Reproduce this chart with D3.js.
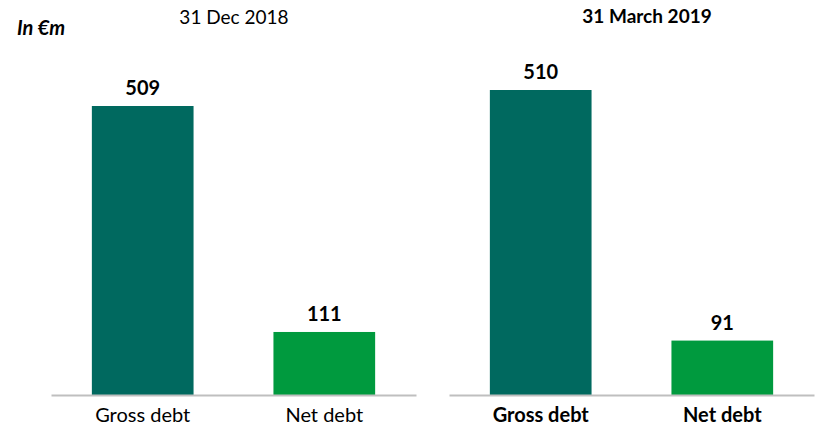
<!DOCTYPE html>
<html><head><meta charset="utf-8">
<script src="https://cdn.jsdelivr.net/npm/d3@7"></script>
<style>body{margin:0;background:#fff}svg{display:block}text{font-family:Lato,"Open Sans",sans-serif}</style>
</head><body><svg id="c" width="819" height="427"></svg>
<script>
const categories = ["Gross debt", "Net debt"];
const periods = ["31 Dec 2018", "31 March 2019"];
const values2018 = [509, 111];
const values2019 = [510, 91];
const unitLabel = "In €m";
const colors = ["#00695F", "#009A3E"];

const svg = d3.select("#c");
const baseline = 395;
const panels = [
  {title: periods[0], values: values2018, x0: 51, x1: 416, top: 106, bold: false, tx: 234, ty: 24},
  {title: periods[1], values: values2019, x0: 449, x1: 814, top: 90, bold: true, tx: 647, ty: 23}
];

svg.append("text").attr("x", 17).attr("y", 35).attr("font-size", 20)
  .attr("font-weight", "bold").attr("font-style", "italic").attr("fill", "#000").text(unitLabel);

panels.forEach(p => {
  const x = d3.scaleBand().domain(categories).range([p.x0, p.x1]).paddingInner(0.44).paddingOuter(0.225);
  const maxV = d3.max(p.values);
  const y = d3.scaleLinear().domain([0, maxV]).range([baseline, p.top]);
  const g = svg.append("g");
  g.selectAll("rect").data(p.values).join("rect")
    .attr("x", (d, i) => x(categories[i])).attr("width", x.bandwidth())
    .attr("y", d => y(d)).attr("height", d => baseline - y(d))
    .attr("fill", (d, i) => colors[i]);
  g.selectAll("text.v").data(p.values).join("text").attr("class", "v")
    .attr("x", (d, i) => x(categories[i]) + x.bandwidth() / 2).attr("y", d => y(d) - 11)
    .attr("text-anchor", "middle").attr("font-size", 20).attr("font-weight", "bold").attr("fill", "#000")
    .text(d => d);
  const axis = d3.axisBottom(x).tickSize(0).tickPadding(13);
  const ag = g.append("g").attr("transform", `translate(0,${baseline})`).call(axis);
  ag.select(".domain").attr("stroke", "#BFBFBF").attr("stroke-width", 2);
  ag.selectAll("text").attr("font-size", 20).attr("font-family", "Lato,'Open Sans',sans-serif")
    .attr("font-weight", p.bold ? "bold" : "normal").attr("fill", "#000");
  svg.append("text").attr("x", p.tx).attr("y", p.ty).attr("text-anchor", "middle")
    .attr("font-size", 19).attr("font-weight", p.bold ? "bold" : "normal").attr("fill", "#000").text(p.title);
});
</script></body></html>
